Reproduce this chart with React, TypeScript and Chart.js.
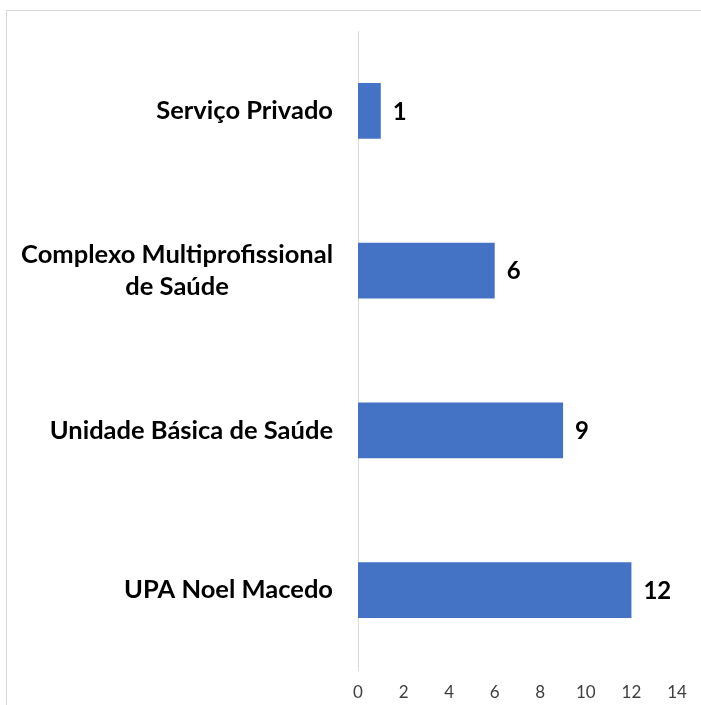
import React, { useEffect, useRef } from 'react';
import { Chart, registerables } from 'chart.js';

Chart.register(...registerables);

const categories: (string | string[])[] = [
  'Serviço Privado',
  ['Complexo Multiprofissional', 'de Saúde'],
  'Unidade Básica de Saúde',
  'UPA Noel Macedo',
];
const values: number[] = [1, 6, 9, 12];
const xMin = 0;
const xMax = 14;
const xStep = 2;

const LABEL_FONT = 'bold 25.5px Lato, "Liberation Sans", sans-serif';
const VALUE_FONT = 'bold 24px Lato, "Liberation Sans", sans-serif';

const decorPlugin = {
  id: 'decor',
  beforeDraw(chart: any) {
    const ctx = chart.ctx;
    ctx.save();
    ctx.fillStyle = '#ffffff';
    ctx.fillRect(0, 0, chart.width, chart.height);
    ctx.strokeStyle = '#d9d9d9';
    ctx.lineWidth = 1;
    ctx.strokeRect(6.5, 10.5, chart.width + 10, chart.height + 10);
    ctx.restore();
  },
  afterDraw(chart: any) {
    const ctx = chart.ctx;
    const yScale = chart.scales.y;
    ctx.save();
    ctx.font = LABEL_FONT;
    ctx.fillStyle = '#000000';
    ctx.textBaseline = 'middle';
    ctx.textAlign = 'center';
    const right = yScale.right - 25;
    const lineHeight = 32;
    categories.forEach((lab, i) => {
      const lines = Array.isArray(lab) ? lab : [lab];
      const py = yScale.getPixelForTick(i);
      const blockW = Math.max(...lines.map((l) => ctx.measureText(l).width));
      const cx = right - blockW / 2;
      const startY = py - ((lines.length - 1) * lineHeight) / 2;
      lines.forEach((l, j) => ctx.fillText(l, cx, startY + j * lineHeight));
    });
    const meta = chart.getDatasetMeta(0);
    ctx.font = VALUE_FONT;
    ctx.textAlign = 'left';
    meta.data.forEach((bar: any, i: number) => {
      ctx.fillText(String(values[i]), bar.x + 12, bar.y + 1);
    });
    ctx.restore();
  },
};

export default function App() {
  const ref = useRef<HTMLCanvasElement>(null);
  useEffect(() => {
    if (!ref.current) return;
    const chart = new Chart(ref.current, {
      type: 'bar',
      data: {
        labels: categories as any,
        datasets: [
          {
            data: values,
            backgroundColor: '#4472C4',
            borderWidth: 0,
            categoryPercentage: 1,
            barPercentage: 0.35,
          },
        ],
      },
      options: {
        indexAxis: 'y',
        responsive: false,
        animation: false,
        layout: { padding: { top: 31, right: 24, bottom: 0, left: 0 } },
        plugins: { legend: { display: false }, tooltip: { enabled: false } },
        scales: {
          x: {
            min: xMin,
            max: xMax,
            ticks: {
              stepSize: xStep,
              color: '#404040',
              font: { size: 17, family: 'Lato, "Liberation Sans", sans-serif' },
              padding: 12,
            },
            grid: { display: false, drawTicks: false },
            border: { display: false },
            afterFit: (s: any) => {
              s.height = 35;
            },
          },
          y: {
            ticks: { display: false },
            grid: { display: false, drawTicks: false },
            border: { display: true, color: '#d9d9d9', width: 1 },
            afterFit: (s: any) => {
              s.width = 358;
            },
          },
        },
      },
      plugins: [decorPlugin],
    });
    return () => chart.destroy();
  }, []);
  return (
    <div style={{ position: 'fixed', left: 0, top: 0, width: 701, height: 705 }}>
      <canvas ref={ref} width={701} height={705} />
    </div>
  );
}
